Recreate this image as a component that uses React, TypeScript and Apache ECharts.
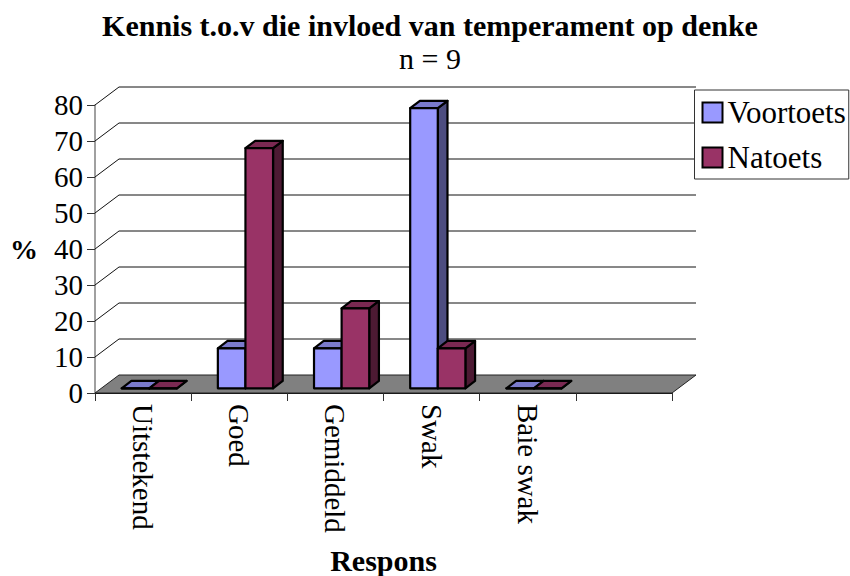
import React, { useEffect, useRef } from "react";
import * as echarts from "echarts";

const categories = ["Uitstekend", "Goed", "Gemiddeld", "Swak", "Baie swak", ""];
const voortoets = [0, 11.1, 11.1, 77.8, 0];
const natoets = [0, 66.7, 22.2, 11.1, 0];
const yTicks = [10, 20, 30, 40, 50, 60, 70, 80];
const titleText = "Kennis t.o.v die invloed van temperament op denke";
const subtitleText = "n = 9";
const xName = "Respons";
const yName = "%";
const serif = "'Liberation Serif', 'Times New Roman', serif";

const wallDx = 24;
const wallDy = 18;
const baseDx = 6.2;
const baseDy = 4.7;
const barDx = 9.7;
const barDy = 7.4;
const barFrac = 27.6 / 96.17;

const blue = { front: "#9999FF", top: "#7A7ACC", side: "#4D4D80" };
const red = { front: "#993366", top: "#7A2952", side: "#4D1A33" };

function barRender(colors: any, slot: number) {
  return (_p: any, api: any) => {
    const cat = api.value(0);
    const val = api.value(1);
    const w = api.size([1, 0])[0] * barFrac;
    const c0 = api.coord([cat, 0]);
    const c1 = api.coord([cat, val]);
    const l = c0[0] + baseDx - w + slot * w;
    const r = l + w;
    const b = c0[1] - baseDy;
    const t = c1[1] - baseDy;
    const edge = { stroke: "#000", lineWidth: 2.2, lineJoin: "round" };
    return {
      type: "group",
      children: [
        {
          type: "polygon",
          shape: { points: [[r, b], [r + barDx, b - barDy], [r + barDx, t - barDy], [r, t]] },
          style: { fill: colors.side, ...edge },
        },
        {
          type: "polygon",
          shape: { points: [[l, t], [l + barDx, t - barDy], [r + barDx, t - barDy], [r, t]] },
          style: { fill: colors.top, ...edge },
        },
        {
          type: "polygon",
          shape: { points: [[l, b], [l, t], [r, t], [r, b]] },
          style: { fill: colors.front, ...edge },
        },
      ],
    };
  };
}

function wallRender(_p: any, api: any) {
  const v = api.value(0);
  const last = categories.length - 1;
  const size = api.size([1, 0])[0];
  const a = api.coord([0, v]);
  const x0 = a[0] - size / 2;
  const x1 = api.coord([last, v])[0] + size / 2;
  const y = a[1];
  return {
    type: "polyline",
    shape: { points: [[x0, y], [x0 + wallDx, y - wallDy], [x1 + wallDx, y - wallDy]] },
    style: { fill: "none", stroke: "#111", lineWidth: 1 },
  };
}

function floorRender(_p: any, api: any) {
  const last = categories.length - 1;
  const size = api.size([1, 0])[0];
  const a = api.coord([0, 0]);
  const x0 = a[0] - size / 2;
  const x1 = api.coord([last, 0])[0] + size / 2;
  const y = a[1];
  return {
    type: "polygon",
    shape: { points: [[x0, y], [x0 + wallDx, y - wallDy], [x1 + wallDx, y - wallDy], [x1, y]] },
    style: { fill: "#808080", stroke: "#222", lineWidth: 1 },
  };
}

export default function App() {
  const ref = useRef<HTMLDivElement>(null);
  useEffect(() => {
    const chart = echarts.init(ref.current!, undefined, { renderer: "svg" });
    chart.setOption({
      animation: false,
      backgroundColor: "#fff",
      title: [
        {
          text: titleText,
          left: 425,
          top: 5,
          textAlign: "center",
          textStyle: { fontFamily: serif, fontWeight: "bold", fontSize: 30, color: "#000" },
        },
        {
          text: subtitleText,
          left: 425,
          top: 38,
          textAlign: "center",
          textStyle: { fontFamily: serif, fontWeight: "normal", fontSize: 30, color: "#000" },
        },
      ],
      legend: {
        data: ["Voortoets", "Natoets"],
        orient: "vertical",
        left: 694.5,
        top: 90,
        padding: [7, 3, 6, 7],
        itemGap: 14,
        itemWidth: 20,
        itemHeight: 20,
        icon: "rect",
        borderColor: "#333",
        borderWidth: 1,
        backgroundColor: "#fff",
        selectedMode: false,
        textStyle: { fontFamily: serif, fontSize: 31, color: "#000" },
      },
      grid: { left: 95, right: 178, top: 105, bottom: 183, outerBoundsMode: "none" },
      xAxis: {
        type: "category",
        data: categories,
        name: xName,
        nameLocation: "middle",
        nameGap: 152,
        nameTextStyle: { fontFamily: serif, fontWeight: "bold", fontSize: 30, color: "#000" },
        axisLine: { show: true, lineStyle: { color: "#111", width: 1 } },
        axisTick: { show: true, length: 8, alignWithLabel: false, lineStyle: { color: "#333", width: 1 } },
        axisLabel: {
          rotate: -90,
          interval: 0,
          margin: 11,
          fontFamily: serif,
          fontSize: 29,
          color: "#000",
        },
        splitLine: { show: false },
      },
      yAxis: {
        type: "value",
        min: 0,
        max: 80,
        interval: 10,
        name: yName,
        nameLocation: "middle",
        nameRotate: 0,
        nameGap: 57,
        nameTextStyle: { fontFamily: serif, fontWeight: "bold", fontSize: 28, color: "#000" },
        axisLine: { show: true, lineStyle: { color: "#808080", width: 1.5 } },
        axisTick: { show: true, length: 8, lineStyle: { color: "#333", width: 1 } },
        axisLabel: { margin: 12, fontFamily: serif, fontSize: 29, color: "#000" },
        splitLine: { show: false },
      },
      series: [
        {
          type: "custom",
          name: "wall",
          silent: true,
          z: 1,
          renderItem: wallRender,
          encode: { y: 0 },
          data: yTicks.map((v) => [v]),
        },
        {
          type: "custom",
          name: "floor",
          silent: true,
          z: 1,
          renderItem: floorRender,
          data: [[0]],
        },
        {
          type: "custom",
          name: "Voortoets",
          z: 2,
          renderItem: barRender(blue, 0),
          itemStyle: { color: blue.front, borderColor: "#000", borderWidth: 2 },
          encode: { x: 0, y: 1 },
          data: voortoets.map((v, i) => [i, v]),
        },
        {
          type: "custom",
          name: "Natoets",
          z: 2,
          renderItem: barRender(red, 1),
          itemStyle: { color: red.front, borderColor: "#000", borderWidth: 2 },
          encode: { x: 0, y: 1 },
          data: natoets.map((v, i) => [i, v]),
        },
      ],
    });
    return () => chart.dispose();
  }, []);
  return (
    <div
      ref={ref}
      style={{ position: "fixed", left: 0, top: 0, width: 850, height: 576 }}
    />
  );
}
